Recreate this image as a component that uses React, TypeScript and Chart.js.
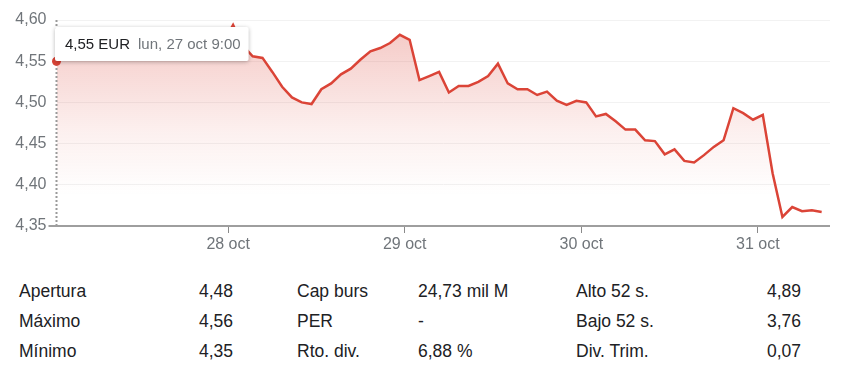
import React, { useEffect, useRef } from "react";
import { Chart, registerables } from "chart.js";

Chart.register(...registerables);

// Price at 30-min steps of trading time (9:00 … 17:30, 18 slots per session)
const prices27 = [4.55, 4.562, 4.568, 4.574, 4.57, 4.566, 4.572, 4.578, 4.575, 4.57, 4.566, 4.57, 4.575, 4.572, 4.568, 4.565, 4.57, 4.573];
const prices28 = [4.594, 4.569, 4.556, 4.554, 4.537, 4.519, 4.506, 4.5, 4.498, 4.516, 4.523, 4.534, 4.541, 4.552, 4.562, 4.566, 4.572, 4.582];
const prices29 = [4.576, 4.527, 4.532, 4.537, 4.512, 4.52, 4.52, 4.525, 4.532, 4.547, 4.523, 4.516, 4.516, 4.509, 4.513, 4.502, 4.497, 4.502];
const prices30 = [4.5, 4.483, 4.486, 4.477, 4.467, 4.467, 4.454, 4.453, 4.437, 4.443, 4.429, 4.427, 4.436, 4.446, 4.454, 4.493, 4.487, 4.479];
const prices31 = [4.485, 4.414, 4.361, 4.373, 4.368, 4.369, 4.367];
const prices = [...prices27, ...prices28, ...prices29, ...prices30, ...prices31];

const xMax = 78.85;
const dayTickPositions = [17.5, 35.5, 53.5, 71.5];
const dayTickLabels = ["28 oct", "29 oct", "30 oct", "31 oct"];
const yTickValues = [4.35, 4.4, 4.45, 4.5, 4.55, 4.6];
const yMin = 4.35;
const yMax = 4.6;

const tooltipCurrency = "EUR";
const tooltipDate = "lun, 27 oct 9:00";

const statLabelsA = ["Apertura", "Máximo", "Mínimo"];
const statValuesA = ["4,48", "4,56", "4,35"];
const statLabelsB = ["Cap burs", "PER", "Rto. div."];
const statValuesB = ["24,73 mil M", "-", "6,88 %"];
const statLabelsC = ["Alto 52 s.", "Bajo 52 s.", "Div. Trim."];
const statValuesC = ["4,89", "3,76", "0,07"];

const FONT = "'Liberation Sans', Arial, sans-serif";
const RED = "#db4437";

const fmt = (v: number) => v.toFixed(2).replace(".", ",");

const hoverPlugin = {
  id: "hoverMark",
  afterDatasetsDraw(chart: any) {
    const { ctx, chartArea } = chart;
    const xs = chart.scales.x;
    const ys = chart.scales.y;
    const px = xs.getPixelForValue(0);
    const py = ys.getPixelForValue(prices[0]);
    ctx.save();
    // dotted crosshair
    ctx.strokeStyle = "#9a9a9a";
    ctx.lineWidth = 2;
    ctx.setLineDash([2, 2]);
    ctx.beginPath();
    ctx.moveTo(px, chartArea.top);
    ctx.lineTo(px, chartArea.bottom - 1);
    ctx.stroke();
    ctx.setLineDash([]);
    // point
    ctx.fillStyle = RED;
    ctx.beginPath();
    ctx.arc(px, py, 4.5, 0, Math.PI * 2);
    ctx.fill();
    // tooltip box
    ctx.font = `15px ${FONT}`;
    const t1 = `${fmt(prices[0])} ${tooltipCurrency}`;
    const t2 = tooltipDate;
    const w1 = ctx.measureText(t1).width;
    const w2 = ctx.measureText(t2).width;
    const padL = 10;
    const padR = 8;
    const gap = 8;
    const bw = padL + padR + w1 + gap + w2;
    const bh = 34;
    const bx = px - 1.5;
    const by = chartArea.top + 7;
    ctx.shadowColor = "rgba(0,0,0,0.28)";
    ctx.shadowBlur = 4;
    ctx.shadowOffsetY = 1;
    ctx.fillStyle = "#ffffff";
    ctx.beginPath();
    ctx.roundRect(bx, by, bw, bh, 2);
    ctx.fill();
    ctx.shadowColor = "transparent";
    ctx.textBaseline = "middle";
    ctx.textAlign = "left";
    ctx.fillStyle = "#202124";
    ctx.fillText(t1, bx + padL, by + bh / 2 + 0.5);
    ctx.fillStyle = "#70757a";
    ctx.fillText(t2, bx + padL + w1 + gap, by + bh / 2 + 0.5);
    ctx.restore();
  },
};

function PriceChart() {
  const ref = useRef<HTMLCanvasElement | null>(null);
  useEffect(() => {
    if (!ref.current) return;
    const chart = new Chart(ref.current, {
      type: "line",
      data: {
        datasets: [
          {
            data: prices.map((y, i) => ({ x: i, y })),
            borderColor: RED,
            borderWidth: 2.5,
            pointRadius: 0,
            tension: 0,
            fill: "start",
            backgroundColor: (c: any) => {
              const area = c.chart.chartArea;
              if (!area) return "rgba(219,68,55,0.2)";
              const g = c.chart.ctx.createLinearGradient(0, area.top, 0, area.bottom);
              g.addColorStop(0, "rgba(219,68,55,0.30)");
              g.addColorStop(0.55, "rgba(219,68,55,0.08)");
              g.addColorStop(0.85, "rgba(219,68,55,0.0)");
              g.addColorStop(1, "rgba(219,68,55,0.0)");
              return g;
            },
          },
        ],
      },
      options: {
        animation: false,
        responsive: true,
        maintainAspectRatio: false,
        layout: { padding: { top: 12, right: 16, left: 0, bottom: 0 } },
        plugins: { legend: { display: false }, tooltip: { enabled: false } },
        events: [],
        scales: {
          x: {
            type: "linear",
            min: 0,
            max: xMax,
            afterBuildTicks: (s: any) => {
              s.ticks = dayTickPositions.map((v) => ({ value: v }));
            },
            afterFit: (s: any) => {
              s.height = 32;
            },
            ticks: {
              autoSkip: false,
              maxRotation: 0,
              padding: 2,
              color: "#70757a",
              font: { family: FONT, size: 16 },
              callback: (v: any) => {
                const idx = dayTickPositions.indexOf(Number(v));
                return idx >= 0 ? dayTickLabels[idx] : "";
              },
            },
            grid: {
              drawOnChartArea: false,
              drawTicks: true,
              tickLength: 7,
              tickColor: "#8a8a8a",
              tickWidth: 1,
            },
            border: { display: false },
          },
          y: {
            min: yMin,
            max: yMax,
            afterBuildTicks: (s: any) => {
              s.ticks = yTickValues.map((v) => ({ value: v }));
            },
            afterFit: (s: any) => {
              s.width = 48.5;
            },
            ticks: {
              padding: 2,
              color: "#70757a",
              font: { family: FONT, size: 16 },
              callback: (v: any) => fmt(Number(v)),
            },
            grid: {
              drawTicks: true,
              tickLength: 8,
              color: (c: any) => (Math.abs(c.tick.value - yMin) < 1e-6 ? "#9e9e9e" : "#f2f2f2"),
              tickColor: (c: any) => (Math.abs(c.tick.value - yMin) < 1e-6 ? "#9e9e9e" : "rgba(0,0,0,0)"),
              lineWidth: (c: any) => (Math.abs(c.tick.value - yMin) < 1e-6 ? 2 : 1),
              tickWidth: 2,
            },
            border: { display: false },
          },
        },
      } as any,
      plugins: [hoverPlugin],
    });
    return () => chart.destroy();
  }, []);
  return (
    <div style={{ position: "relative", width: 838, height: 250 }}>
      <canvas ref={ref} style={{ display: "block" }} />
    </div>
  );
}

function StatsTable() {
  const cell: React.CSSProperties = { height: 30, lineHeight: "30px", whiteSpace: "nowrap" };
  return (
    <div
      style={{
        marginTop: 18,
        marginLeft: 11,
        display: "grid",
        gridTemplateColumns: "214px 64px 121px 158px 225px",
        fontFamily: FONT,
        fontSize: 17.5,
        color: "#202124",
      }}
    >
      {statLabelsA.map((_, r) => (
        <React.Fragment key={r}>
          <div style={{ ...cell, display: "flex", justifyContent: "space-between" }}>
            <span>{statLabelsA[r]}</span>
            <span>{statValuesA[r]}</span>
          </div>
          <div style={cell} />
          <div style={cell}>{statLabelsB[r]}</div>
          <div style={cell}>{statValuesB[r]}</div>
          <div style={{ ...cell, display: "flex", justifyContent: "space-between" }}>
            <span>{statLabelsC[r]}</span>
            <span>{statValuesC[r]}</span>
          </div>
        </React.Fragment>
      ))}
    </div>
  );
}

export default function App() {
  return (
    <div>
      <PriceChart />
      <StatsTable />
    </div>
  );
}
